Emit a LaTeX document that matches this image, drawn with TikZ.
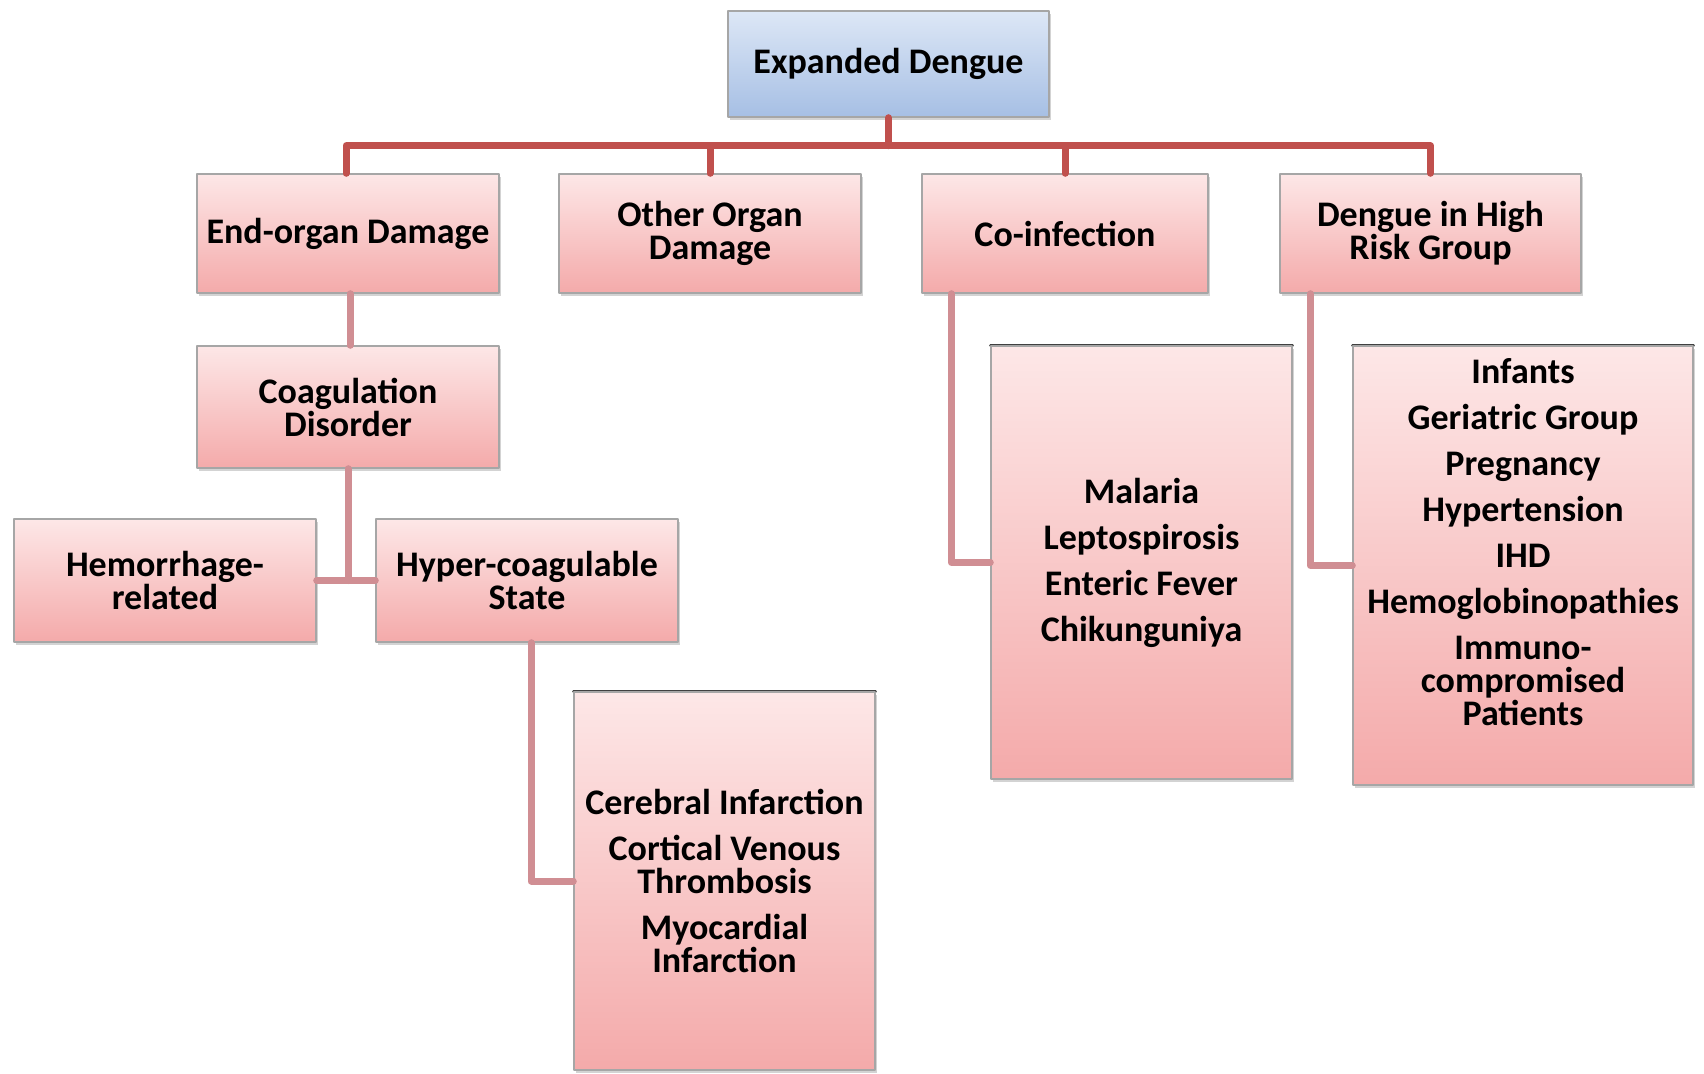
\documentclass[tikz,border=0pt]{standalone}
\usepackage{fontspec}
\setmainfont{Carlito}
\usetikzlibrary{shadows}
\definecolor{busred}{RGB}{192,80,77}
\definecolor{linkpink}{RGB}{208,142,147}
\definecolor{pinktop}{RGB}{253,231,231}
\definecolor{pinkbot}{RGB}{244,170,170}
\definecolor{bluetop}{RGB}{221,231,246}
\definecolor{bluebot}{RGB}{166,191,228}
\begin{document}
\begin{tikzpicture}[x=0.5pt,y=-0.5pt,line cap=round,line join=round,
  box/.style={draw=black!35,line width=0.7pt,top color=pinktop,bottom color=pinkbot,
    drop shadow={shadow xshift=1.2pt,shadow yshift=-1.5pt,opacity=0.35},
    align=center,inner sep=0pt,font=\bfseries\fontsize{18}{16.5}\selectfont},
  rootbox/.style={box,top color=bluetop,bottom color=bluebot},
  listbox/.style={box,append after command={\pgfextra{\draw[black!75,line width=1.2pt]
    (\tikzlastnode.north west) -- (\tikzlastnode.north east);}}},
  bus/.style={busred,line width=3.5pt},
  link/.style={linkpink,line width=3.5pt}]
  \useasboundingbox (0,0) rectangle (1704,1073);
  \node[rootbox,minimum width=160.5pt,minimum height=53pt] (root) at (888.5,64) {Expanded Dengue};
  \node[box,minimum width=151pt,minimum height=59.5pt] (eod) at (348,233.5) {End-organ Damage};
  \node[box,minimum width=151pt,minimum height=59.5pt] (ood) at (710,233.5) {Other Organ\\Damage};
  \node[box,minimum width=143pt,minimum height=59.5pt] (coi) at (1065,233.5) {Co-infection};
  \node[box,minimum width=150.5pt,minimum height=59.5pt] (hrg) at (1430.5,233.5) {Dengue in High\\Risk Group};
  \node[box,minimum width=151pt,minimum height=61pt] (coag) at (348,407) {Coagulation\\Disorder};
  \node[box,minimum width=151pt,minimum height=61.5pt] (hem) at (165,580.5) {Hemorrhage-\\related};
  \node[box,minimum width=151pt,minimum height=61.5pt] (hyp) at (527,580.5) {Hyper-coagulable\\State};
  \node[listbox,minimum width=150.5pt,minimum height=189pt] (cvs) at (724.5,881)
    {Cerebral Infarction\\[6.5pt]Cortical Venous\\Thrombosis\\[6.5pt]Myocardial\\Infarction};
  \node[listbox,minimum width=150.5pt,minimum height=216.5pt] (coil) at (1141.5,562.5)
    {Malaria\\[6.5pt]Leptospirosis\\[6.5pt]Enteric Fever\\[6.5pt]Chikunguniya};
  \node[listbox,minimum width=170pt,minimum height=219.5pt,text depth=24pt] (hrgl) at (1523,565.5)
    {Infants\\[6.5pt]Geriatric Group\\[6.5pt]Pregnancy\\[6.5pt]Hypertension\\[6.5pt]IHD\\[6.5pt]%
     Hemoglobinopathies\\[6.5pt]Immuno-\\compromised\\Patients};
  \draw[bus] (root.south) -- ++(0,28) coordinate (busmid);
  \draw[bus] ([xshift=-1pt]eod.north) |- (busmid) -| (hrg.north);
  \draw[bus] (ood.north) -- (ood.north |- busmid);
  \draw[bus] (coi.north) -- (coi.north |- busmid);
  \draw[link] ([xshift=1pt]eod.south) -- ([xshift=1pt]coag.north);
  \draw[link] (coag.south) -- (coag.south |- hem.east);
  \draw[link] (hem.east) -- (hyp.west);
  \draw[link] ([xshift=2pt]hyp.south) |- (cvs.west);
  \draw[link] ([xshift=15pt]coi.south west) |- (coil.west);
  \draw[link] ([xshift=15.5pt]hrg.south west) |- (hrgl.west);
\end{tikzpicture}
\end{document}
